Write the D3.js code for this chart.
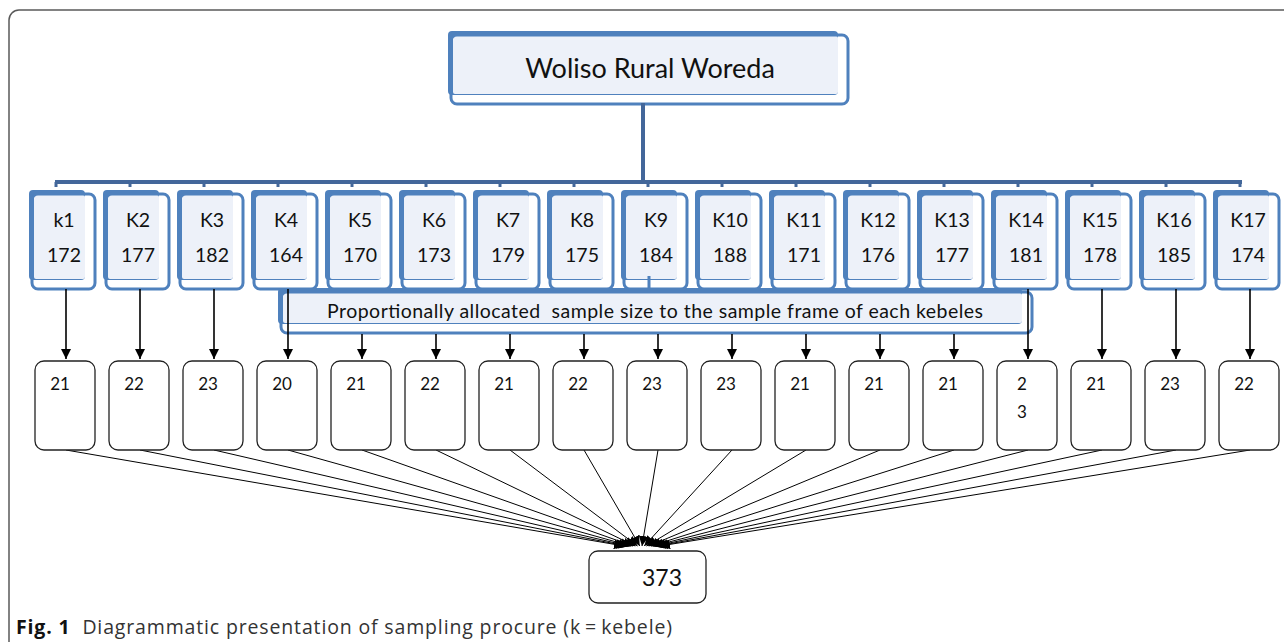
<!DOCTYPE html>
<html>
<head>
<meta charset="utf-8">
<script src="https://cdn.jsdelivr.net/npm/d3@7"></script>
<style>
  body { margin: 0; background: #fff; }
  svg { display: block; }
  text { font-family: Lato, "Open Sans", sans-serif; fill: #111; }
</style>
</head>
<body>
<svg width="1284" height="643"></svg>
<script>
// diagram content
const rootLabel = "Woliso Rural Woreda"
const kebeles = ["k1", "K2", "K3", "K4", "K5", "K6", "K7", "K8", "K9", "K10", "K11", "K12", "K13", "K14", "K15", "K16", "K17"]
const frameSizes = [172, 177, 182, 164, 170, 173, 179, 175, 184, 188, 171, 176, 177, 181, 178, 185, 174]
const sampleSizes = [21, 22, 23, 20, 21, 22, 21, 22, 23, 23, 21, 21, 21, 23, 21, 23, 22]
const bannerLabel = "Proportionally allocated  sample size to the sample frame of each kebeles"
const totalSample = 373
const captionBold = "Fig. 1"
const captionText = "Diagrammatic presentation of sampling procure (k\u2009=\u2009kebele)"

const blue = "#4f81bd"
const darkBlue = "#43679a"
const paleFill = "#edf1f9"

const svg = d3.select("svg")

// arrow heads
const defs = svg.append("defs")
function marker(id, size) {
  defs.append("marker")
    .attr("id", id)
    .attr("viewBox", "0 0 10 10")
    .attr("refX", 10).attr("refY", 5)
    .attr("markerUnits", "userSpaceOnUse")
    .attr("markerWidth", size).attr("markerHeight", size)
    .attr("orient", "auto")
    .append("path").attr("d", "M0,0L10,5L0,10z").attr("fill", "#000")
}
marker("head", 10)
marker("headSmall", 10)

// outer frame
svg.append("path")
  .attr("d", "M9,642V20A10,10 0 0 1 19,10H1284")
  .attr("fill", "none").attr("stroke", "#5a5a5a").attr("stroke-width", 1.5)

// box with blue "shadow" look
function blueBox(g, x, y, w, h) {
  g.append("rect").attr("x", x).attr("y", y).attr("width", w).attr("height", h)
    .attr("rx", 4).attr("fill", blue)
  g.append("rect").attr("x", x + 5).attr("y", y + 5).attr("width", w - 5).attr("height", h - 6)
    .attr("rx", 2).attr("fill", paleFill)
  g.append("rect").attr("x", x + 3).attr("y", y + 4).attr("width", w + 7).attr("height", h + 5)
    .attr("rx", 6).attr("fill", "none").attr("stroke", blue).attr("stroke-width", 3)
}

// positions of the kebele columns (centre of each box)
const xC = d3.scalePoint().domain(d3.range(kebeles.length)).range([64, 1248])
const xEnd = d3.scaleLinear().domain([0, kebeles.length - 1]).range([624, 660])

// root box
const root = svg.append("g")
blueBox(root, 448, 31, 390, 64)
root.append("text").attr("x", 650).attr("y", 78)
  .attr("text-anchor", "middle").attr("font-size", 27).text(rootLabel)

// trunk and bar
svg.append("line").attr("x1", 643).attr("x2", 643).attr("y1", 103).attr("y2", 183)
  .attr("stroke", darkBlue).attr("stroke-width", 4)
svg.append("line").attr("x1", xC(0) - 9).attr("x2", xC(16) - 6).attr("y1", 182).attr("y2", 182)
  .attr("stroke", darkBlue).attr("stroke-width", 4)
svg.selectAll(".tick").data(kebeles).enter().append("line")
  .attr("x1", (d, i) => xC(i) - 8).attr("x2", (d, i) => xC(i) - 8)
  .attr("y1", 182).attr("y2", 187)
  .attr("stroke", darkBlue).attr("stroke-width", 3)

// kebele boxes
const kb = svg.selectAll(".kebele").data(kebeles).enter().append("g").attr("class", "kebele")
kb.each(function (d, i) { blueBox(d3.select(this), xC(i) - 35, 190, 56, 90) })
kb.append("text").attr("x", (d, i) => xC(i)).attr("y", 227)
  .attr("text-anchor", "middle").attr("font-size", 19.5).text(d => d)
kb.append("text").attr("x", (d, i) => xC(i)).attr("y", 262)
  .attr("text-anchor", "middle").attr("font-size", 19.5).text((d, i) => frameSizes[i])

// banner
const bannerX0 = 278, bannerX1 = 1022
const banner = svg.append("g")
blueBox(banner, bannerX0, 288, bannerX1 - bannerX0, 36)
banner.append("text").attr("x", 327).attr("y", 318)
  .attr("font-size", 19.5).style("white-space", "pre")
  .attr("textLength", 656).attr("lengthAdjust", "spacing")
  .text(bannerLabel)

// little link from the middle kebele to the banner
const mid = Math.floor(kebeles.length / 2)
svg.append("line").attr("x1", xC(mid) - 7).attr("x2", xC(mid) - 7).attr("y1", 276).attr("y2", 292)
  .attr("stroke", blue).attr("stroke-width", 3)

// arrows down to the sample boxes
svg.selectAll(".down").data(kebeles).enter().append("line")
  .attr("x1", (d, i) => xC(i) + 2).attr("x2", (d, i) => xC(i) + 2)
  .attr("y1", (d, i) => (xC(i) > bannerX0 + 30 && xC(i) < bannerX1) ? 334 : 289)
  .attr("y2", 359)
  .attr("stroke", "#000").attr("stroke-width", 1.6)
  .attr("marker-end", "url(#head)")

// converging lines to the total
svg.selectAll(".fan").data(sampleSizes).enter().append("line")
  .attr("x1", (d, i) => xC(i) + 2).attr("y1", 450)
  .attr("x2", (d, i) => xEnd(i)).attr("y2", 546)
  .attr("stroke", "#000").attr("stroke-width", 1)
  .attr("marker-end", "url(#headSmall)")

// sample size boxes
const sb = svg.selectAll(".sample").data(sampleSizes).enter().append("g").attr("class", "sample")
sb.append("rect")
  .attr("x", (d, i) => xC(i) - 29).attr("y", 361).attr("width", 60).attr("height", 89)
  .attr("rx", 9).attr("fill", "#fff").attr("stroke", "#222").attr("stroke-width", 1.3)
const wrapped = 13 // this box shows its number split over two lines
sb.each(function (d, i) {
  const t = d3.select(this).append("text").attr("font-size", 17).attr("text-anchor", "middle")
  const chars = i === wrapped ? String(d).split("") : [String(d)]
  chars.forEach((c, k) => {
    t.append("tspan").attr("x", xC(i) - 4).attr("y", 390 + k * 28).text(c)
  })
})

// total
svg.append("rect").attr("x", 589).attr("y", 551).attr("width", 117).attr("height", 52)
  .attr("rx", 9).attr("fill", "#fff").attr("stroke", "#222").attr("stroke-width", 1.3)
svg.append("text").attr("x", 662).attr("y", 586).attr("text-anchor", "middle")
  .attr("font-size", 23).text(totalSample)

// caption
const cap = svg.append("text").attr("x", 16).attr("y", 634).attr("font-size", 19.5)
  .style("font-family", "'Open Sans', sans-serif").style("white-space", "pre")
  .attr("textLength", 656).attr("lengthAdjust", "spacing")
cap.append("tspan").attr("font-weight", "bold").attr("fill", "#111").text(captionBold)
cap.append("tspan").style("fill", "#333").text("  " + captionText)
</script>
</body>
</html>
